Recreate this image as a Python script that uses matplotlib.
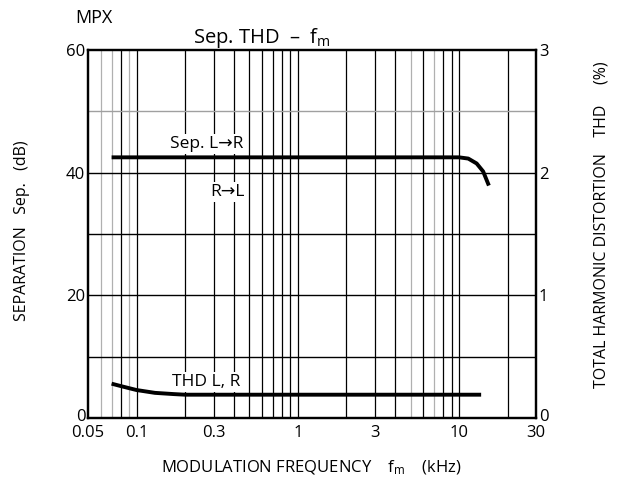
import matplotlib
matplotlib.use("Agg")
import matplotlib.pyplot as plt
import matplotlib.transforms as mtransforms
import numpy as np

plt.rcParams['font.family'] = ['Open Sans', 'DejaVu Sans']
plt.rcParams['mathtext.fontset'] = 'custom'
plt.rcParams['mathtext.rm'] = 'Open Sans'
plt.rcParams['mathtext.it'] = 'Open Sans'

# Data
sep_f = [0.07, 0.1, 0.5, 1, 5, 10, 11.4, 12.85, 14.1, 15.3]
sep_db = [42.5, 42.5, 42.5, 42.5, 42.5, 42.5, 42.3, 41.5, 40.2, 37.9]
thd_f = [0.07, 0.08, 0.1, 0.13, 0.17, 0.2, 0.3, 1, 10, 13.7]
thd_pct = [0.28, 0.26, 0.228, 0.205, 0.195, 0.19, 0.19, 0.19, 0.19, 0.19]

x_ticks = [0.05, 0.1, 0.3, 1, 3, 10, 30]
x_ticklabels = ['0.05', '0.1', '0.3', '1', '3', '10', '30']
left_ticks = [0, 20, 40, 60]
right_ticks = [0, 1, 2, 3]

fig = plt.figure(figsize=(6.23, 4.86), dpi=100)
ax = fig.add_axes([0.1413, 0.1399, 0.7191, 0.7572])
ax.set_xscale('log')
ax.set_xlim(0.05, 30)
ax.set_ylim(0, 60)

# grid lines
gray_x = [0.06, 0.07, 0.09, 5, 7]
for dec in [0.01, 0.1, 1, 10]:
    for k in range(1, 10):
        v = round(dec * k, 4)
        if 0.05 < v < 30:
            c = '#b0b0b0' if v in gray_x else 'black'
            ax.axvline(v, color=c, lw=0.9, zorder=1)
for h in [10, 20, 30, 40, 50]:
    c = '#a0a0a0' if h == 50 else 'black'
    ax.axhline(h, color=c, lw=1.0, zorder=1)

ax.plot(sep_f, sep_db, color='black', lw=2.8, zorder=3, solid_capstyle='butt')

ax2 = ax.twinx()
ax2.set_ylim(0, 3)
ax2.plot(thd_f, thd_pct, color='black', lw=2.8, zorder=3, solid_capstyle='butt')

for a in (ax, ax2):
    for s in a.spines.values():
        s.set_linewidth(1.6)
    a.tick_params(length=0, labelsize=12, pad=2)
ax.tick_params(axis='x', pad=5)

ax.set_xticks(x_ticks)
ax.set_xticklabels(x_ticklabels)
ax.xaxis.set_minor_locator(matplotlib.ticker.NullLocator())
ax.set_yticks(left_ticks)
ax2.set_yticks(right_ticks)
shift = mtransforms.ScaledTranslation(0, 3 / 100, fig.dpi_scale_trans)
for a in (ax, ax2):
    lab = a.get_yticklabels()[0]
    lab.set_transform(lab.get_transform() + shift)

bb = dict(facecolor='white', edgecolor='none', pad=1.5)
ax.text(0.161, 44.7, 'Sep. L\u2192R', fontsize=12.5, ha='left', va='center', bbox=bb, zorder=4)
ax.text(0.285, 36.8, 'R\u2192L', fontsize=12.5, ha='left', va='center', bbox=bb, zorder=4)
ax.text(0.166, 5.9, 'THD L, R', fontsize=12.5, ha='left', va='center', bbox=bb, zorder=4)

fig.text(0.120, 0.963, 'MPX', fontsize=13, ha='left', va='center')
fig.text(0.42, 0.922, 'Sep. THD  \u2013  f$_{\\mathrm{m}}$', fontsize=14.5, ha='center', va='center')
fig.text(0.036, 0.525, 'SEPARATION   Sep.   (dB)', fontsize=11.5, rotation=90, ha='center', va='center')
fig.text(0.966, 0.537, 'TOTAL HARMONIC DISTORTION    THD     (%)', fontsize=11.5, rotation=90, ha='center', va='center')
fig.text(0.50, 0.037, 'MODULATION FREQUENCY    f$_{\\mathrm{m}}$    (kHz)', fontsize=12, ha='center', va='center')

fig.savefig('out.png', dpi=100)
